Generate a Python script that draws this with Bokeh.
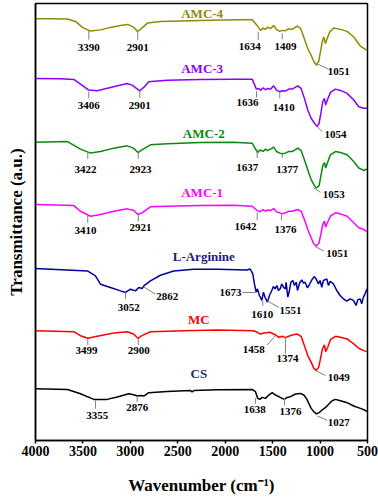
from bokeh.plotting import figure
from bokeh.models import Range1d, FixedTicker
from bokeh.core.properties import value
from bokeh.embed import file_html
from bokeh.resources import INLINE

FONT = "Liberation Serif"

# ---------------- data (wavenumber cm-1, transmittance a.u., stacked) ----------------
wn_amc4 = [4000, 3842, 3663, 3578, 3505, 3420, 3315, 3210, 3104, 3030, 2967, 2925, 2893, 2820, 2683,
           2472, 2261, 2050, 1839, 1716, 1663, 1628, 1600, 1576, 1552, 1523, 1488, 1460, 1425, 1400,
           1365, 1330, 1294, 1242, 1207, 1172, 1130, 1094, 1067, 1038, 1014, 996, 978, 961, 943,
           926, 898, 856, 785, 715, 645, 575, 505]
t_amc4 = [423.7, 423.7, 423.5, 421, 415, 411.3, 412.5, 415, 417, 418, 415.3, 411, 413, 419.3, 421,
          421.5, 422, 422.5, 422.7, 422.7, 417, 412, 414.3, 413, 415.3, 413.7, 417, 413, 411, 412,
          411.7, 413.7, 413, 416.3, 414.3, 405.3, 393.7, 387, 381, 377, 381, 390.3, 400.3, 405.3, 398.7,
          403.7, 410.3, 414.3, 413, 411, 405.3, 396.3, 392]

wn_amc3 = [4000, 3737, 3596, 3526, 3438, 3350, 3210, 3034, 2981, 2901, 2859, 2806, 2612, 2261, 1913,
           1716, 1671, 1646, 1629, 1600, 1576, 1552, 1523, 1488, 1460, 1425, 1400, 1365, 1330, 1294,
           1235, 1200, 1165, 1130, 1094, 1059, 1031, 1010, 989, 972, 954, 941, 923, 891, 838,
           785, 715, 645, 592, 540, 505]
t_amc3 = [363.7, 363.5, 362.7, 358, 352, 351.3, 354.7, 358.7, 357, 351.3, 354.7, 360.3, 362, 362.7, 363,
          363, 353, 353.7, 351.7, 354.3, 352.3, 353.7, 353, 356.3, 352, 350.3, 351.3, 351, 353, 353,
          356.3, 353.7, 343.7, 332, 323.7, 318.7, 315.3, 318.7, 330.3, 340.3, 343.7, 337, 342, 349.7, 353,
          351.7, 348.7, 342, 335.3, 333.7, 333.7]

wn_amc2 = [4000, 3663, 3526, 3420, 3315, 3174, 3034, 2967, 2920, 2878, 2788, 2612, 2261, 1913, 1716,
           1671, 1657, 1629, 1600, 1576, 1552, 1523, 1488, 1460, 1425, 1400, 1365, 1330, 1294, 1235,
           1200, 1165, 1130, 1094, 1059, 1038, 1010, 989, 972, 954, 941, 923, 891, 838, 785,
           715, 645, 592, 540, 505]
t_amc2 = [299.7, 300.3, 292.7, 288.7, 290.3, 293.7, 296, 293.7, 289.3, 292, 297, 298, 299.3, 299.7, 298.7,
          291.3, 289.3, 292, 290.3, 292.7, 291.3, 292.7, 294.7, 290.3, 288.7, 288, 288.7, 290.3, 290.3, 293.7,
          291.3, 282, 272, 262, 256, 253.7, 256, 267, 276, 279.3, 273.7, 278.7, 287, 290.3, 289.3,
          287, 280.3, 273.7, 271.3, 272.7]

wn_amc1 = [4000, 3596, 3526, 3420, 3315, 3174, 3034, 2967, 2920, 2878, 2788, 2612, 2261, 1913, 1716,
           1663, 1635, 1600, 1576, 1552, 1523, 1488, 1460, 1425, 1400, 1365, 1330, 1294, 1235, 1200,
           1165, 1130, 1094, 1067, 1038, 1010, 989, 972, 954, 941, 923, 891, 838, 785, 715,
           645, 592, 540, 505]
t_amc1 = [237, 236, 230.3, 225.3, 227, 230.3, 232.7, 231.3, 227, 228.7, 234.7, 235.3, 236, 236.3, 235.3,
          231, 229.7, 232, 230.3, 231.7, 231, 233, 229.7, 228.7, 227.7, 228.7, 230.3, 230.3, 232, 230.3,
          222, 212, 203.7, 197.7, 195.3, 198.7, 208.7, 217, 220.3, 214.3, 218.7, 225.3, 228.7, 227.7, 225.3,
          218.7, 213.7, 212, 209.5]

wn_larg = [4000, 3452, 3368, 3315, 3210, 3104, 3051, 2998, 2946, 2911, 2876, 2858, 2788, 2683, 2543,
           2332, 2086, 1770, 1737, 1709, 1692, 1674, 1660, 1639, 1614, 1597, 1579, 1555, 1534, 1509,
           1492, 1474, 1456, 1439, 1421, 1404, 1386, 1365, 1358, 1340, 1323, 1308, 1287, 1270, 1252,
           1238, 1217, 1193, 1175, 1158, 1133, 1112, 1087, 1063, 1042, 1017, 1000, 982, 965, 929,
           912, 894, 859, 824, 789, 754, 719, 684, 649, 620, 603, 578, 561, 543, 526, 505]
t_larg = [172.7, 170.3, 165.3, 157, 153.7, 150.3, 148.7, 152, 150.3, 153.7, 152.7, 155.3, 160.3, 166, 170.3,
          172, 172, 171.3, 172.3, 167.3, 157.3, 149, 152.3, 145.7, 140.7, 149, 143.7, 139, 145.7, 150.7,
          154.7, 152.3, 155.7, 150.7, 152.3, 157.3, 154, 152.3, 159, 144, 150.7, 159, 160.7, 155.7, 159,
          150.7, 158, 161.3, 158, 159, 153.3, 156.7, 161.3, 164.7, 162.3, 157.3, 160.7, 154, 160.7, 162.3,
          155.7, 160, 157.3, 150.7, 145.7, 142.3, 140, 142.3, 140.7, 135.7, 141.3, 142.3, 137.3, 144, 147.3, 152.3]

wn_mc = [4000, 3596, 3526, 3449, 3350, 3174, 3034, 2967, 2920, 2878, 2788, 2437, 2086, 1700, 1663,
         1628, 1593, 1523, 1470, 1435, 1400, 1365, 1330, 1294, 1242, 1200, 1165, 1130, 1094, 1067,
         1042, 1014, 996, 975, 954, 941, 919, 891, 838, 785, 715, 645, 592, 540, 505]
t_mc = [110.3, 109.3, 105.3, 102.7, 104.7, 108, 109.3, 107, 102.7, 105.3, 109.3, 110.3, 111, 110.3, 108.7,
        107, 108, 108.7, 106, 103.7, 104.7, 103.3, 104.7, 106, 107, 104.7, 95.3, 85.3, 78.7, 72.7,
        70.3, 73.7, 82, 92, 96, 89.3, 93.7, 101.3, 104.7, 103.7, 102, 97, 92.7, 90.3, 89.3]

wn_cs = [4000, 3663, 3526, 3385, 3245, 3139, 3016, 2967, 2925, 2893, 2858, 2806, 2612, 2366, 2349,
         2331, 2086, 1716, 1681, 1657, 1635, 1611, 1576, 1541, 1505, 1470, 1435, 1400, 1376, 1347,
         1312, 1259, 1207, 1172, 1144, 1119, 1094, 1067, 1038, 1010, 978, 954, 933, 908, 873,
         838, 785, 715, 645, 575, 533, 505]
t_cs = [52, 51.3, 47, 41.3, 41.3, 43.7, 47, 46, 44.7, 45.3, 44.7, 48, 49.3, 50.3, 48.7,
        50.3, 51, 51.3, 49, 42.3, 41.3, 43.3, 42.3, 45.7, 48, 45.7, 44, 42.3, 41.3, 43.3,
        44, 46.7, 47.3, 45.7, 42.3, 37.3, 32.3, 29, 26.7, 28, 30.7, 32.3, 34, 36.7, 40,
        41.3, 40, 38, 34.7, 32.3, 30.7, 29]

series_names = ["AMC-4", "AMC-3", "AMC-2", "AMC-1", "L-Arginine", "MC", "CS"]
series_wn = [wn_amc4, wn_amc3, wn_amc2, wn_amc1, wn_larg, wn_mc, wn_cs]
series_t = [t_amc4, t_amc3, t_amc2, t_amc1, t_larg, t_mc, t_cs]
x_ticks = [4000, 3500, 3000, 2500, 2000, 1500, 1000, 500]

# ---------------- styling / layout ----------------
line_colors = ["#8c8c00", "#8a00ff", "#0a8a0a", "#ff00ff", "#0000a0", "#ff0000", "#000000"]
label_colors = ["#8c8c00", "#8a00ff", "#0a8a0a", "#ff00ff", "#1c1c78", "#ff0000", "#1c2a6e"]
label_pos = [(2243, 428.7), (2243, 373.7), (2226, 308.7), (2243, 248.7), (2226, 185.3), (2278, 122), (2278, 67)]

# peak annotations: (text, leader x0, y0, x1, y1, text x, text y)
peaks = [
    ("3390", 3438, 411.3, 3438, 402.7, 3438, 395), ("2901", 2922, 411, 2922, 402.7, 2922, 395),
    ("1634", 1652, 410.3, 1652, 402, 1741, 396.3), ("1409", 1399, 409, 1399, 403, 1365, 396.3),
    ("1051", 1038, 378.7, 908, 373, 803, 371),
    ("3406", 3438, 350.3, 3438, 343.7, 3438, 337), ("2901", 2900, 351.3, 2900, 344, 2900, 336.3),
    ("1636", 1670, 351, 1670, 344.7, 1765, 339.7), ("1410", 1425, 349.7, 1425, 343.7, 1383, 334.3),
    ("1054", 1049, 317, 978, 310.3, 838, 307.7),
    ("3422", 3449, 290.3, 3449, 283, 3473, 272.7), ("2923", 2917, 289.7, 2917, 283, 2893, 272.7),
    ("1637", 1663, 292.7, 1663, 283.7, 1768, 274.3), ("1377", 1399, 288.7, 1399, 284, 1347, 272),
    ("1053", 1067, 253.7, 996, 249.3, 855, 247),
    ("3410", 3449, 226, 3449, 218.7, 3473, 211), ("2921", 2917, 227, 2917, 220, 2893, 213.7),
    ("1642", 1663, 228.7, 1663, 221.3, 1786, 215.3), ("1376", 1407, 227, 1407, 221.3, 1365, 212),
    ("1051", 1049, 194.7, 961, 190.3, 820, 187.7),
    ("3052", 3051, 148.7, 3051, 142, 3016, 133.7), ("2862", 2858, 154.3, 2735, 147, 2612, 144.7),
    ("1673", 1821, 148.7, 1681, 148.7, 1944, 148.7), ("1610", 1604, 140.3, 1604, 135.3, 1610, 127),
    ("1551", 1557, 140.3, 1435, 133.7, 1312, 131),
    ("3499", 3449, 102.7, 3449, 96, 3462, 90.3), ("2900", 2917, 102, 2917, 96, 2911, 90.3),
    ("1458", 1470, 105.3, 1557, 96, 1699, 91), ("1374", 1365, 104, 1365, 87, 1344, 82),
    ("1049", 1049, 70.3, 943, 65.3, 803, 63.7),
    ("3355", 3367, 40.3, 3367, 32, 3350, 25.3), ("2876", 2928, 44.7, 2928, 38.7, 2928, 32.7),
    ("1638", 1681, 42.7, 1681, 37, 1688, 31.3), ("1376", 1375, 42.7, 1375, 35.3, 1312, 29.3),
    ("1027", 1030, 24.7, 925, 20.3, 803, 17.7),
]

p = figure(width=378, height=497, x_range=Range1d(4000, 500), y_range=Range1d(0, 439),
           output_backend="svg", toolbar_location=None,
           min_border_left=35, min_border_right=11, min_border_top=3, min_border_bottom=0)
p.title.visible = False

p.xgrid.visible = False
p.ygrid.visible = False
p.outline_line_color = "black"
p.outline_line_width = 1.5

p.xaxis.ticker = FixedTicker(ticks=x_ticks)
p.xaxis.major_label_text_font = FONT
p.xaxis.major_label_text_font_style = "bold"
p.xaxis.major_label_text_font_size = "14px"
p.xaxis.major_label_text_color = "black"
p.xaxis.major_tick_in = 0
p.xaxis.major_tick_out = 3
p.xaxis.minor_tick_line_color = None
p.xaxis.major_label_standoff = 2
p.xaxis.axis_line_width = 1.5
p.xaxis.major_tick_line_width = 1.5
p.xaxis.axis_label = "Wavenumber (cm\u207b\u00b9)"
p.xaxis.axis_label_standoff = 17

p.yaxis.ticker = FixedTicker(ticks=[])
p.yaxis.major_tick_line_color = None
p.yaxis.minor_tick_line_color = None
p.yaxis.major_label_text_font_size = "0px"
p.yaxis.major_tick_out = 0
p.yaxis.major_label_standoff = 0
p.yaxis.axis_line_width = 1.5
p.yaxis.axis_label = "Transmittance (a.u.)"
p.yaxis.axis_label_standoff = 10

for ax in (p.xaxis[0], p.yaxis[0]):
    ax.axis_label_text_font = FONT
    ax.axis_label_text_font_style = "bold"
    ax.axis_label_text_font_size = "17px"
    ax.axis_label_text_color = "black"

for wn, t, c in zip(series_wn, series_t, line_colors):
    p.line(wn, t, line_color=c, line_width=1.5)

for name, (lx, ly), c in zip(series_names, label_pos, label_colors):
    p.text(x=[lx], y=[ly], text=[name], text_color=c, text_font=value(FONT),
           text_font_style="bold", text_font_size="13px",
           text_align="center", text_baseline="middle")

p.segment(x0=[a[1] for a in peaks], y0=[a[2] for a in peaks],
          x1=[a[3] for a in peaks], y1=[a[4] for a in peaks],
          line_color="#808080", line_width=1)
p.text(x=[a[5] for a in peaks], y=[a[6] for a in peaks], text=[a[0] for a in peaks],
       text_color="black", text_font=value(FONT), text_font_style="bold",
       text_font_size="11px", text_align="center", text_baseline="middle")

open("out.html", "w").write(file_html(p, INLINE))
